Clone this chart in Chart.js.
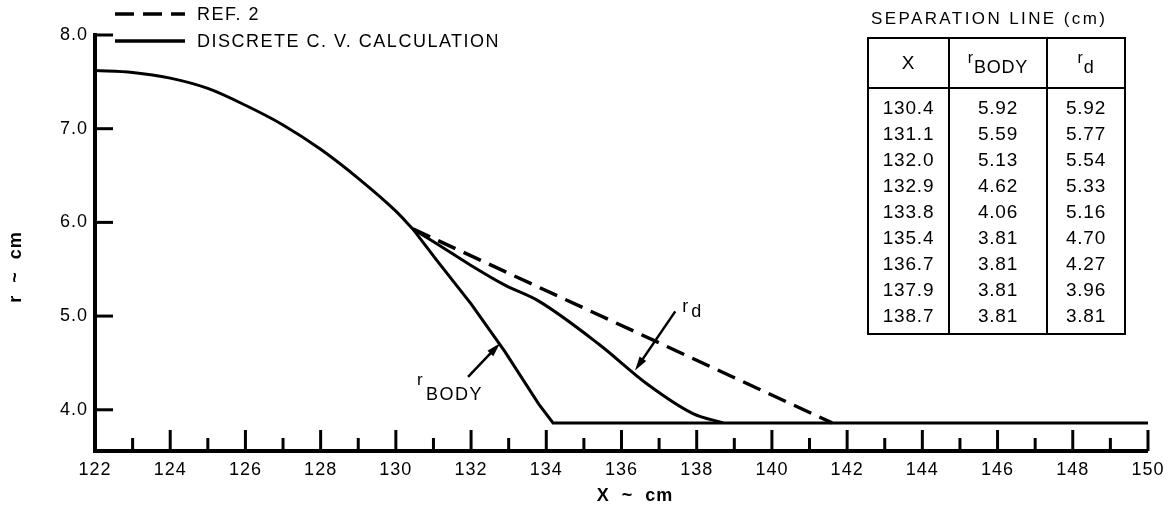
<!DOCTYPE html>
<html>
<head>
<meta charset="utf-8">
<script src="https://cdn.jsdelivr.net/npm/chart.js@4.4.0/dist/chart.umd.min.js"></script>
<style>
  html, body { margin: 0; padding: 0; background: #fff; }
  #wrap { position: relative; width: 1171px; height: 516px; }
  #sepTitle {
    position: absolute; left: 871px; top: 9px;
    font: 17px 'Liberation Sans', Arial, sans-serif; letter-spacing: 2.4px; color: #000;
  }
  #sepTable {
    position: absolute; left: 867px; top: 37px;
    border-collapse: collapse; border: 2px solid #000;
    font: 19px 'Liberation Sans', Arial, sans-serif; letter-spacing: 0.8px; color: #000;
  }
  #sepTable td, #sepTable th {
    border-left: 2px solid #000; border-right: 2px solid #000;
    text-align: center; padding: 0; font-weight: normal;
  }
  #sepTable th { height: 48px; border-bottom: 2px solid #000; }
  #sepTable td { height: 26px; line-height: 26px; }
  #sepTable tbody tr:first-child td { padding-top: 6px; }
  #sepTable tbody tr:last-child td { padding-bottom: 4px; }
  #sepTable .r { font-size: 16px; vertical-align: 6px; }
  #sepTable .sub { font-size: 18px; vertical-align: -4px; }
</style>
</head>
<body>
<div id="wrap">
  <canvas id="myChart" width="1171" height="516"></canvas>
  <div id="sepTitle">SEPARATION LINE (cm)</div>
  <table id="sepTable">
    <thead><tr>
      <th style="width:79px">X</th>
      <th style="width:96px"><span class="r">r</span><span class="sub">BODY</span></th>
      <th style="width:76px"><span class="r">r</span><span class="sub">d</span></th>
    </tr></thead>
    <tbody id="sepBody"></tbody>
  </table>
</div>
<script>
// forebody contour (r vs X), smooth part
const foreX = [122, 123, 124, 125, 126, 127, 128, 129, 130, 130.45];
const foreR = [7.62, 7.60, 7.54, 7.43, 7.25, 7.04, 6.78, 6.47, 6.12, 5.93];

// aft body contour, straight segments
const aftX = [130.45, 131.1, 132.0, 132.9, 133.8, 134.18, 150];
const aftR = [5.93, 5.59, 5.13, 4.62, 4.06, 3.86, 3.86];

// separation line r_d, discrete C.V. calculation
const rdX = [130.45, 131.1, 132.0, 132.9, 133.8, 135.4, 136.7, 137.9, 138.7];
const rdR = [5.93, 5.77, 5.54, 5.33, 5.16, 4.70, 4.27, 3.96, 3.86];

// ref. 2 separation line
const refX = [130.45, 141.6];
const refR = [5.93, 3.86];

// table "separation line (cm)"
const tableX = [130.4, 131.1, 132.0, 132.9, 133.8, 135.4, 136.7, 137.9, 138.7];
const tableBody = [5.92, 5.59, 5.13, 4.62, 4.06, 3.81, 3.81, 3.81, 3.81];
const tableRd = [5.92, 5.77, 5.54, 5.33, 5.16, 4.70, 4.27, 3.96, 3.81];

const xTickLabels = [122, 124, 126, 128, 130, 132, 134, 136, 138, 140, 142, 144, 146, 148, 150];
const yTickLabels = [4.0, 5.0, 6.0, 7.0, 8.0];

const FONT = "'Liberation Sans', Arial, Helvetica, sans-serif";

function toPoints(xs, ys) {
    return xs.map((x, i) => ({ x: x, y: ys[i] }));
}

// fill the table
const tb = document.getElementById('sepBody');
tableX.forEach((x, i) => {
    const tr = document.createElement('tr');
    [x.toFixed(1), tableBody[i].toFixed(2), tableRd[i].toFixed(2)].forEach((s) => {
        const td = document.createElement('td');
        td.textContent = s;
        tr.appendChild(td);
    });
    tb.appendChild(tr);
});

function arrow(ctx, x1, y1, x2, y2) {
    const a = Math.atan2(y2 - y1, x2 - x1);
    const len = 14, hw = 4;
    ctx.beginPath();
    ctx.moveTo(x1, y1);
    ctx.lineTo(x2 - Math.cos(a) * len * 0.8, y2 - Math.sin(a) * len * 0.8);
    ctx.stroke();
    ctx.beginPath();
    ctx.moveTo(x2, y2);
    ctx.lineTo(x2 - Math.cos(a) * len - Math.sin(a) * hw, y2 - Math.sin(a) * len + Math.cos(a) * hw);
    ctx.lineTo(x2 - Math.cos(a) * len + Math.sin(a) * hw, y2 - Math.sin(a) * len - Math.cos(a) * hw);
    ctx.closePath();
    ctx.fill();
}

const decor = {
    id: 'decor',
    beforeDraw(chart) {
        chart.ctx.letterSpacing = '1px'; // looser tick labels, like the typeset original
    },
    afterDraw(chart) {
        const ctx = chart.ctx;
        const xs = chart.scales.x, ys = chart.scales.y;
        const area = chart.chartArea;
        const px = (x, r) => [xs.getPixelForValue(x), ys.getPixelForValue(r)];
        ctx.save();
        ctx.strokeStyle = '#000';
        ctx.fillStyle = '#000';
        ctx.lineCap = 'butt';

        // ticks pointing into the plot
        ctx.lineWidth = 3;
        xs.ticks.forEach((t) => {
            const x = xs.getPixelForValue(t.value);
            const len = xTickLabels.includes(t.value) ? 21 : 13;
            ctx.beginPath();
            ctx.moveTo(x, area.bottom);
            ctx.lineTo(x, area.bottom - len);
            ctx.stroke();
        });
        ys.ticks.forEach((t) => {
            const y = ys.getPixelForValue(t.value);
            ctx.beginPath();
            ctx.moveTo(area.left, y);
            ctx.lineTo(area.left + 18, y);
            ctx.stroke();
        });

        // legend
        ctx.font = '18px ' + FONT;
        ctx.letterSpacing = '1.5px';
        ctx.textBaseline = 'middle';
        ctx.textAlign = 'left';
        [[3, 14], [0, 41]].forEach(([di, y]) => {
            const ds = chart.data.datasets[di];
            ctx.lineWidth = 3.5;
            ctx.setLineDash(ds.borderDash || []);
            ctx.beginPath();
            ctx.moveTo(115, y);
            ctx.lineTo(185, y);
            ctx.stroke();
            ctx.setLineDash([]);
            ctx.fillText(ds.label, 197, y + 1);
        });

        // axis titles
        ctx.font = 'bold 18px ' + FONT;
        ctx.letterSpacing = '1px';
        ctx.textAlign = 'center';
        ctx.fillText('X  ~  cm', 635, 496);
        ctx.save();
        ctx.translate(16, 267);
        ctx.rotate(-Math.PI / 2);
        ctx.fillText('r  ~  cm', 0, 0);
        ctx.restore();

        // r_BODY annotation
        ctx.lineWidth = 2.5;
        ctx.textAlign = 'left';
        let [tx, ty] = px(131.92, 4.35);
        let [hx, hy] = px(132.77, 4.71);
        arrow(ctx, tx, ty, hx, hy);
        ctx.textBaseline = 'alphabetic';
        ctx.letterSpacing = '1.5px';
        ctx.font = '17px ' + FONT;
        ctx.fillText('r', tx - 51, ty + 8);
        ctx.font = '18px ' + FONT;
        ctx.fillText('BODY', tx - 42, ty + 23);

        // r_d annotation
        [tx, ty] = px(137.43, 5.05);
        [hx, hy] = px(136.36, 4.42);
        arrow(ctx, tx, ty, hx, hy);
        ctx.font = '18px ' + FONT;
        ctx.fillText('r', tx + 7, ty + 1);
        ctx.fillText('d', tx + 16, ty + 6);

        ctx.restore();
    }
};

const ctx = document.getElementById('myChart');
new Chart(ctx, {
    type: 'line',
    data: {
        datasets: [{
            label: 'DISCRETE C. V. CALCULATION',
            data: toPoints(foreX, foreR),
            borderColor: '#000',
            borderWidth: 3,
            pointRadius: 0,
            cubicInterpolationMode: 'monotone'
        }, {
            label: 'r_BODY',
            data: toPoints(aftX, aftR),
            borderColor: '#000',
            borderWidth: 3,
            pointRadius: 0,
            tension: 0
        }, {
            label: 'r_d',
            data: toPoints(rdX, rdR),
            borderColor: '#000',
            borderWidth: 3,
            pointRadius: 0,
            cubicInterpolationMode: 'monotone'
        }, {
            label: 'REF. 2',
            data: toPoints(refX, refR),
            borderColor: '#000',
            borderWidth: 3.5,
            borderDash: [19, 9],
            pointRadius: 0,
            tension: 0
        }]
    },
    options: {
        responsive: false,
        animation: false,
        devicePixelRatio: 1,
        layout: { padding: { top: 35, right: 23, left: 0, bottom: 0 } },
        plugins: {
            legend: { display: false },
            tooltip: { enabled: false }
        },
        scales: {
            x: {
                type: 'linear',
                min: 122,
                max: 150,
                afterBuildTicks: (s) => {
                    const t = [];
                    for (let v = 122; v <= 150; v++) t.push({ value: v });
                    s.ticks = t;
                },
                afterFit: (s) => { s.height = 65; },
                grid: { display: false, drawTicks: false },
                border: { display: true, color: '#000', width: 4 },
                ticks: {
                    autoSkip: false,
                    maxRotation: 0,
                    padding: 8,
                    color: '#000',
                    font: { size: 18, family: FONT },
                    callback: (v) => xTickLabels.includes(v) ? String(v) : ''
                }
            },
            y: {
                type: 'linear',
                min: 3.56,
                max: 8.0,
                afterBuildTicks: (s) => { s.ticks = yTickLabels.map((v) => ({ value: v })); },
                afterFit: (s) => { s.width = 95; },
                grid: { display: false, drawTicks: false },
                border: { display: true, color: '#000', width: 4 },
                ticks: {
                    padding: 7,
                    color: '#000',
                    font: { size: 18, family: FONT },
                    callback: (v) => Number(v).toFixed(1)
                }
            }
        }
    },
    plugins: [decor]
});
</script>
</body>
</html>
